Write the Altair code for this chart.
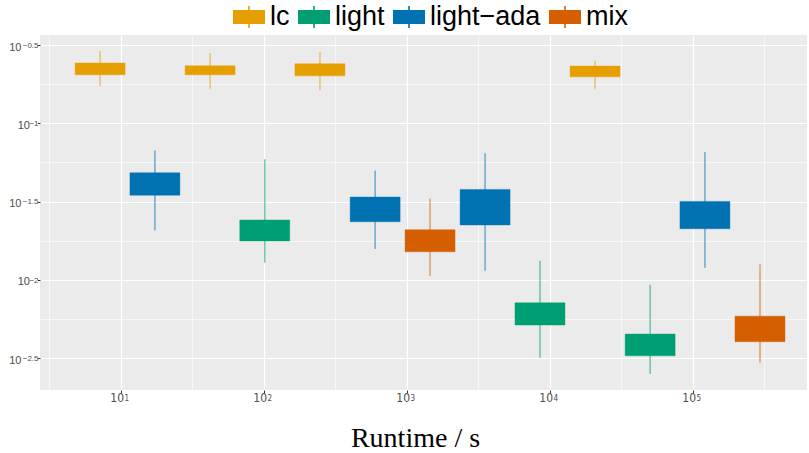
import altair as alt
import pandas as pd

# ---- data ----
methods = ["lc", "light−ada", "lc", "light", "lc", "light−ada", "mix",
           "light−ada", "light", "lc", "light", "light−ada", "mix"]
runtime = [7.2, 17.4, 42.3, 102, 248, 603, 1460, 3540, 8570, 20800, 50500, 122000, 296000]
whisk_hi = [0.290, 0.0671, 0.281, 0.0589, 0.285, 0.0500, 0.0331, 0.0643, 0.01324, 0.251, 0.00929, 0.0655, 0.01259]
upper_q = [0.243, 0.0483, 0.233, 0.0241, 0.240, 0.0338, 0.0209, 0.0378, 0.00713, 0.232, 0.00450, 0.0317, 0.00586]
lower_q = [0.204, 0.0347, 0.204, 0.0177, 0.201, 0.0235, 0.0151, 0.0224, 0.00514, 0.198, 0.00327, 0.0212, 0.00402]
whisk_lo = [0.173, 0.0207, 0.166, 0.01285, 0.163, 0.01574, 0.01057, 0.01143, 0.00318, 0.166, 0.00250, 0.01194, 0.00295]

legend_order = ["lc", "light", "light−ada", "mix"]
colors = ["#E69F00", "#009E73", "#0072B2", "#D55E00"]

x_exponents = [1, 2, 3, 4, 5]
y_exponents = [-0.5, -1, -1.5, -2, -2.5]

# ---- tables ----
boxes = pd.DataFrame({"method": methods, "runtime": runtime, "hi": whisk_hi,
                      "q3": upper_q, "q1": lower_q, "lo": whisk_lo})
xlab = pd.DataFrame({"xv": [10.0 ** e for e in x_exponents],
                     "exp": [str(e) for e in x_exponents]})
ylab = pd.DataFrame({"yv": [10.0 ** e for e in y_exponents],
                     "exp": ["−" + f"{abs(e):g}" for e in y_exponents]})

W, H = 767, 355
GREY = "#4D4D4D"

x_ticks = sorted([10.0 ** e for e in x_exponents] + [10.0 ** (e - 0.5) for e in x_exponents] + [10.0 ** 5.5])
y_ticks = sorted([10.0 ** e for e in y_exponents] + [10.0 ** (e - 0.25) for e in y_exponents[:-1]])

x_scale = alt.Scale(type="log", domain=[10 ** 0.437, 10 ** 5.80], nice=False, zero=False, padding=0)
y_scale = alt.Scale(type="log", domain=[10 ** -2.704, 10 ** -0.436], nice=False, zero=False, padding=0)
c_scale = alt.Scale(domain=legend_order, range=colors)

x_major = "abs(log(datum.value)/LN10 - round(log(datum.value)/LN10)) < 0.01"
y_major = "abs(2*log(datum.value)/LN10 - round(2*log(datum.value)/LN10)) < 0.01"
y_int = x_major

x_axis = alt.Axis(
    values=x_ticks, title="Runtime / s",
    labelExpr=f"({x_major}) ? '10' : ''",
    labelFont="Liberation Sans Narrow, DejaVu Sans Condensed, sans-serif",
    labelFontSize=12, labelColor=GREY, labelAlign="right", labelOffset=3,
    labelPadding=0, labelOverlap=False, labelFlush=False,
    tickSize=2.5, tickColor="#333333",
    tickOpacity={"condition": {"test": x_major, "value": 1}, "value": 0},
    gridColor="white",
    gridWidth={"condition": {"test": x_major, "value": 1.2}, "value": 0.6},
    domain=False,
    titleFont="Liberation Serif", titleFontSize=28, titleFontWeight="normal",
    titleColor="black", titleX=375, titleY=56, titleBaseline="alphabetic",
    titleAlign="center", titleAnchor="start",
)
y_axis = alt.Axis(
    values=y_ticks, title=None,
    labelExpr=f"({y_major}) ? '10' : ''",
    labelFont="Liberation Sans", labelFontSize=11, labelColor=GREY,
    labelPadding={"condition": {"test": y_int, "value": 8}, "value": 16.5},
    labelOffset=2, labelOverlap=False, labelFlush=False,
    tickSize=2.5, tickColor="#333333",
    tickOpacity={"condition": {"test": y_major, "value": 1}, "value": 0},
    gridColor="white",
    gridWidth={"condition": {"test": y_major, "value": 1.2}, "value": 0.6},
    domain=False,
)

sym = ("M-1,-0.44H1V0.44H-1Z M-0.05,-0.69H0.05V-0.44H-0.05Z "
       "M-0.05,0.44H0.05V0.69H-0.05Z")
legend = alt.Legend(
    title=None, orient="none", legendX=193, legendY=-34, direction="horizontal",
    symbolType=sym, symbolSize=1024, symbolStrokeWidth=0, symbolOpacity=1,
    labelFont="Liberation Sans", labelFontSize=27, labelColor="black",
    labelOffset=5, columnPadding=8, labelLimit=0,
)

base = alt.Chart(boxes)
whiskers = base.mark_rule(strokeWidth=1.5, opacity=0.55).encode(
    x=alt.X("runtime:Q", scale=x_scale, axis=x_axis),
    y=alt.Y("lo:Q", scale=y_scale, axis=y_axis),
    y2="hi:Q",
    stroke=alt.Stroke("method:N", scale=c_scale, legend=legend),
)
bodies = base.mark_bar(size=50, orient="vertical", strokeWidth=1, strokeOpacity=0.4).encode(
    x=alt.X("runtime:Q", scale=x_scale, axis=x_axis),
    y=alt.Y("q1:Q", scale=y_scale, axis=y_axis),
    y2="q3:Q",
    fill=alt.Fill("method:N", scale=c_scale, legend=legend),
    stroke=alt.Stroke("method:N", scale=c_scale, legend=legend),
)
xexp = alt.Chart(xlab).mark_text(
    align="left", baseline="alphabetic", dx=4, fontSize=8, color=GREY,
    font="Liberation Sans Narrow, DejaVu Sans Condensed, sans-serif",
).encode(
    x=alt.X("xv:Q", scale=x_scale, axis=x_axis),
    y=alt.value(H + 10.7),
    text="exp:N",
)
yexp = alt.Chart(ylab).mark_text(
    align="right", baseline="alphabetic", dy=2.7, fontSize=8, color=GREY,
    font="Liberation Sans",
).encode(
    x=alt.value(-1.5),
    y=alt.Y("yv:Q", scale=y_scale, axis=y_axis),
    text="exp:N",
)

chart = alt.layer(whiskers, bodies, xexp, yexp).properties(
    width=W, height=H,
    autosize=alt.AutoSizeParams(type="none"),
    padding={"left": 40, "top": 35, "right": 2, "bottom": 63},
    background="white",
).configure_view(fill="#EBEBEB", stroke=None)

chart.save("out.html", embed_options={"renderer": "svg", "actions": False})
